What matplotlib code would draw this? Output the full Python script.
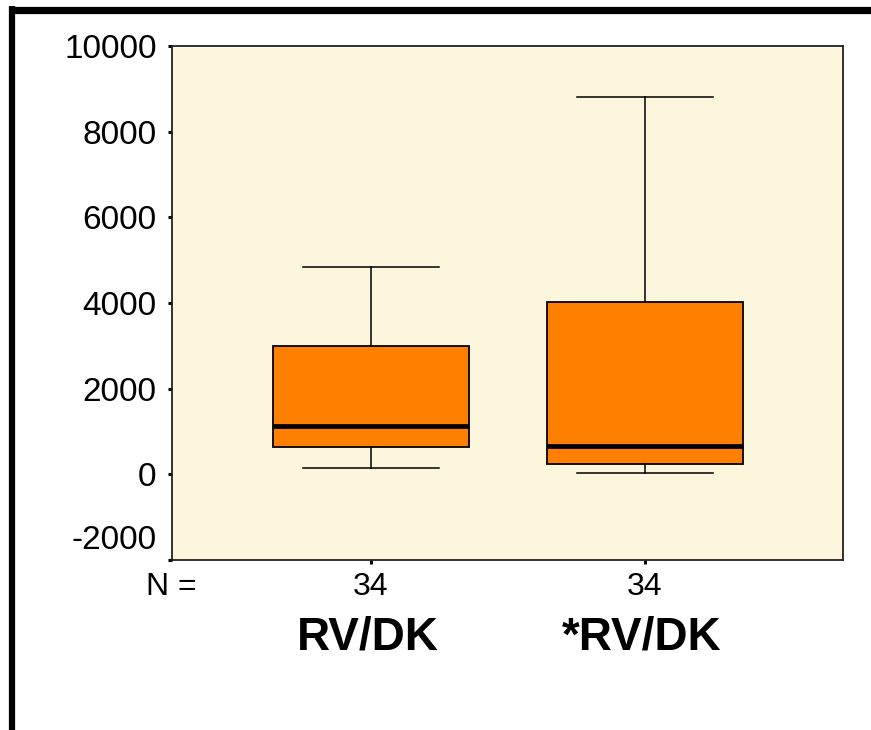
import matplotlib
matplotlib.use("Agg")
import matplotlib.pyplot as plt
from matplotlib.lines import Line2D
from matplotlib.transforms import offset_copy

plt.rcParams['font.family'] = ['Liberation Sans', 'DejaVu Sans']

# Data
groups = ["RV/DK", "*RV/DK"]
counts = [34, 34]
whisker_low = [155, 37]
q1 = [638, 248]
median = [1130, 662]
q3 = [3001, 4030]
whisker_high = [4850, 8820]
yticks = [-2000, 0, 2000, 4000, 6000, 8000, 10000]

fig = plt.figure(figsize=(8.71, 7.30), dpi=100)
ax = fig.add_axes([172/871, 1-560/730, (843-172)/871, (560-46)/730])
ax.set_facecolor('#FCF7DC')

stats = []
for i in range(len(groups)):
    stats.append(dict(label=groups[i], whislo=whisker_low[i], q1=q1[i], med=median[i],
                      q3=q3[i], whishi=whisker_high[i], fliers=[]))
positions = list(range(1, len(groups) + 1))
ax.bxp(stats, positions=positions, widths=0.717, patch_artist=True, showfliers=False,
       boxprops=dict(facecolor='#FF8000', edgecolor='black', linewidth=1.3),
       medianprops=dict(color='black', linewidth=3.4, solid_capstyle='butt'),
       whiskerprops=dict(color='black', linewidth=1.1),
       capprops=dict(color='black', linewidth=1.1),
       capwidths=0.497)

ax.set_xlim(0.2724, 2.7247)
ax.set_ylim(-2000, 10000)
ax.set_yticks(yticks)
ax.set_yticklabels([str(v) for v in yticks])
ax.set_xticks(positions)
ax.set_xticklabels([])
ax.tick_params(axis='y', direction='out', length=3, width=2.2, labelsize=24, pad=8)
ax.tick_params(axis='x', direction='out', length=3, width=2.2)
for s in ax.spines.values():
    s.set_linewidth(1.3)
    s.set_color('#222222')

# lowest tick label sits above its tick, as in the reference
lbls = ax.get_yticklabels()
lbls[0].set_verticalalignment('bottom')
lbls[0].set_transform(offset_copy(lbls[0].get_transform(), fig=fig, y=4, units='dots'))

# N = row and group labels
fig.text(171/871, 1-587/730, "N =", fontsize=23, ha='center', va='center')
for p, n, g in zip(positions, counts, groups):
    xf = fig.transFigure.inverted().transform(ax.transData.transform((p, 0)))[0]
    fig.text(xf, 1-587/730, str(n), fontsize=23, ha='center', va='center')
    fig.text(xf - 3/871, 1-637/730, g, fontsize=33, fontweight='bold', ha='center', va='center')

# figure border (top and left)
fig.add_artist(Line2D([9/871, 1.0], [1-9.5/730, 1-9.5/730], color='black', linewidth=5.2,
                      transform=fig.transFigure, solid_capstyle='butt'))
fig.add_artist(Line2D([12/871, 12/871], [1-6/730, 0.0], color='black', linewidth=4.5,
                      transform=fig.transFigure, solid_capstyle='butt'))

fig.savefig("out.png", dpi=100)
